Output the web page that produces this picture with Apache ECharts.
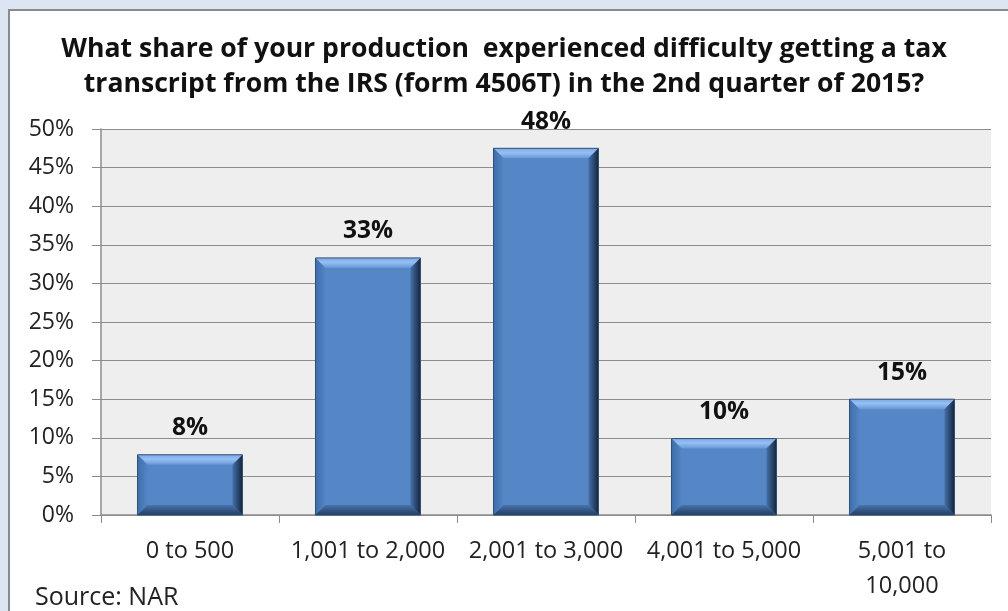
<!DOCTYPE html>
<html>
<head>
<meta charset="utf-8">
<script src="https://cdn.jsdelivr.net/npm/echarts@6/dist/echarts.min.js"></script>
<style>
html, body { margin: 0; padding: 0; background: #DCE6F2; }
#chart { width: 1008px; height: 611px; }
</style>
</head>
<body>
<div id="chart"></div>
<script>
// 产量区间
var categories = ['0 to 500', '1,001 to 2,000', '2,001 to 3,000', '4,001 to 5,000', '5,001 to\n10,000'];
// 百分比
var shares = [7.8, 33.3, 47.5, 9.9, 15.0];
var yTicks = [0, 5, 10, 15, 20, 25, 30, 35, 40, 45, 50];

var myChart = echarts.init(document.getElementById('chart'));
var font = '"Open Sans", "Noto Sans", sans-serif';
var barRatio = 0.59;

// 斜面效果
function renderBevel(params, api) {
    var top = api.coord([api.value(0), api.value(1)]);
    var base = api.coord([api.value(0), 0]);
    var w = api.size([1, 0])[0] * barRatio;
    var x0 = top[0] - w / 2, x1 = top[0] + w / 2;
    var y0 = top[1], y1 = base[1];
    var b = Math.min(10, (y1 - y0) / 3);
    var lg = echarts.graphic.LinearGradient;
    return {
        type: 'group',
        children: [{
            type: 'polygon',
            shape: { points: [[x0, y0], [x1, y0], [x1 - b, y0 + b], [x0 + b, y0 + b]] },
            style: { fill: new lg(0, 0, 0, 1, [{ offset: 0, color: '#7FAAE3' }, { offset: 0.45, color: '#95C0F4' }, { offset: 1, color: '#6696D6' }]) }
        }, {
            type: 'polygon',
            shape: { points: [[x0, y0], [x0 + b, y0 + b], [x0 + b, y1 - b], [x0, y1]] },
            style: { fill: new lg(0, 0, 1, 0, [{ offset: 0, color: '#3F6DA8' }, { offset: 1, color: '#5286C6' }]) }
        }, {
            type: 'polygon',
            shape: { points: [[x1, y0], [x1, y1], [x1 - b, y1 - b], [x1 - b, y0 + b]] },
            style: { fill: new lg(0, 0, 1, 0, [{ offset: 0, color: '#4570AA' }, { offset: 1, color: '#15263D' }]) }
        }, {
            type: 'polygon',
            shape: { points: [[x0, y1], [x0 + b, y1 - b], [x1 - b, y1 - b], [x1, y1]] },
            style: { fill: new lg(0, 0, 0, 1, [{ offset: 0, color: '#4874AE' }, { offset: 1, color: '#233D61' }]) }
        }, {
            type: 'rect',
            shape: { x: x0, y: y0, width: w, height: y1 - y0 },
            style: { fill: 'none', stroke: '#2F4F78', lineWidth: 1 }
        }]
    };
}

var option = {
    backgroundColor: '#DCE6F2',
    animation: false,
    title: {
        text: 'What share of your production  experienced difficulty getting a tax\ntranscript from the IRS (form 4506T) in the 2nd quarter of 2015?',
        left: 'center',
        top: 27,
        textStyle: {
            fontFamily: font,
            fontSize: 26.6,
            fontWeight: 'bold',
            color: '#111',
            lineHeight: 35
        }
    },
    graphic: [{
        type: 'rect',
        z: -10,
        shape: { x: 9, y: 10, width: 1010, height: 610 },
        style: { fill: '#fff', stroke: '#8a8a8a', lineWidth: 2 }
    }, {
        type: 'text',
        left: 35,
        top: 585,
        style: { text: 'Source: NAR', fontFamily: font, fontSize: 25, fill: '#222' }
    }],
    grid: {
        left: 101,
        right: 17,
        top: 129,
        bottom: 96,
        show: true,
        backgroundColor: '#EEEEEE',
        borderWidth: 0
    },
    xAxis: {
        type: 'category',
        data: categories,
        axisLine: { lineStyle: { color: '#8c8c8c', width: 1.5 } },
        axisTick: { show: true, interval: 0, length: 8, lineStyle: { color: '#8c8c8c' } },
        axisLabel: {
            interval: 0,
            margin: 19,
            fontFamily: font,
            fontSize: 23.5,
            color: '#222',
            lineHeight: 35
        }
    },
    yAxis: {
        type: 'value',
        min: 0,
        max: 50,
        interval: 5,
        axisLine: { show: true, lineStyle: { color: '#8c8c8c', width: 1.5 } },
        axisTick: { show: true, length: 9, lineStyle: { color: '#8c8c8c' } },
        splitLine: { lineStyle: { color: '#8c8c8c', width: 1.2 } },
        axisLabel: {
            margin: 27,
            fontFamily: font,
            fontSize: 23,
            color: '#222',
            formatter: function (v) {
                return yTicks.indexOf(v) >= 0 ? v + '%' : '';
            }
        }
    },
    series: [{
        type: 'bar',
        data: shares,
        barWidth: (barRatio * 100) + '%',
        itemStyle: { color: '#5586C6' },
        label: {
            show: true,
            position: 'top',
            distance: 14,
            fontFamily: font,
            fontSize: 24.5,
            fontWeight: 'bold',
            color: '#111',
            formatter: function (p) {
                return Math.round(p.value) + '%';
            }
        }
    }, {
        type: 'custom',
        renderItem: renderBevel,
        encode: { x: 0, y: 1 },
        data: shares.map(function (v, i) { return [i, v]; }),
        z: 3,
        silent: true
    }]
};

myChart.setOption(option);
</script>
</body>
</html>
